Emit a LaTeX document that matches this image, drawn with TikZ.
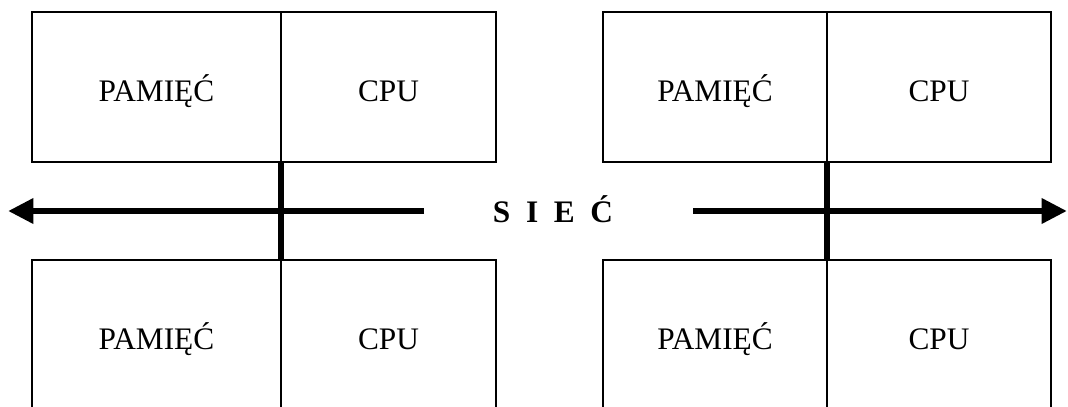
\documentclass[tikz,border=0pt]{standalone}
\usepackage{fontspec}
\setmainfont{Liberation Serif}
\newfontfamily\netfont[WordSpace=2]{Liberation Serif}
\usetikzlibrary{positioning,arrows.meta}
\tikzset{
  cell/.style={draw, line width=1pt, inner sep=0pt, outer sep=0pt, anchor=north west,
    minimum height=112.5pt, text height=21.2pt, text depth=0pt,
    font=\fontsize{23.5}{24}\selectfont},
  net/.style={line width=4.8pt, line cap=butt}
}
\begin{document}
\begin{tikzpicture}[x=.75pt, y=-.75pt, >={Triangle[length=19pt, width=18pt]}]
            \def\gap{73.5pt}
            \clip (0,0) rectangle (1068,407);
            % left pair
            \node[cell, minimum width=186.75pt] (memTL) at (32,12) {PAMIĘĆ};
            \node[cell, minimum width=161.25pt, right=0pt of memTL] (cpuTL) {CPU};
            \node[cell, minimum width=186.75pt, below=\gap of memTL] (memBL) {PAMIĘĆ};
            \node[cell, minimum width=161.25pt, right=0pt of memBL] (cpuBL) {CPU};
            % right pair
            \node[cell, minimum width=168pt] (memTR) at (603,12) {PAMIĘĆ};
            \node[cell, minimum width=168pt, right=0pt of memTR] (cpuTR) {CPU};
            \node[cell, minimum width=168pt, below=\gap of memTR] (memBR) {PAMIĘĆ};
            \node[cell, minimum width=168pt, right=0pt of memBR] (cpuBR) {CPU};
            % siec
            \node[font=\netfont\bfseries\fontsize{23.5}{24}\selectfont] (siec) at (553,209) {S I E Ć};
            \coordinate (netL) at (424,211);
            \coordinate (tipL) at (8,211);
            \coordinate (netR) at (693,211);
            \coordinate (tipR) at (1067,211);
            \draw[net,->] (netL) -- (tipL);
            \draw[net,->] (netR) -- (tipR);
            \draw[net] (memTL.south east) -- (memBL.north east);
            \draw[net] (memTR.south east) -- (memBR.north east);
        \end{tikzpicture}
\end{document}
